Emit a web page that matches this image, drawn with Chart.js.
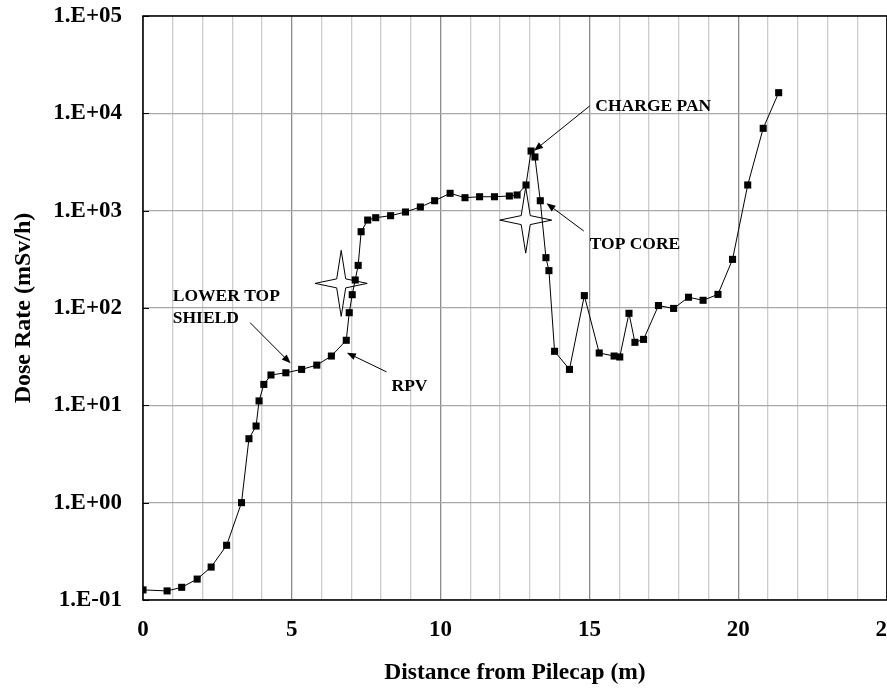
<!DOCTYPE html>
<html><head><meta charset="utf-8">
<script src="https://cdn.jsdelivr.net/npm/chart.js@4.4.0/dist/chart.umd.min.js"></script>
<style>html,body{margin:0;padding:0;background:#fff;overflow:hidden;}#wrap{width:892px;height:689px;position:relative;}</style>
</head><body><div id="wrap"><canvas id="c"></canvas></div>
<script>
// ---- data ----
const distances = [0.0, 0.81, 1.30, 1.82, 2.29, 2.81, 3.31, 3.56, 3.80, 3.90, 4.06, 4.30, 4.80, 5.33, 5.84, 6.33, 6.83,
  6.93, 7.03, 7.13, 7.23, 7.33, 7.55, 7.82, 8.32, 8.82, 9.32, 9.80,
  10.32, 10.82, 11.31, 11.81, 12.31, 12.57, 12.87, 13.04, 13.17, 13.35, 13.54, 13.64,
  13.83, 14.33, 14.83, 15.33, 15.83, 16.02, 16.33, 16.53, 16.82, 17.32, 17.83, 18.33, 18.82, 19.32, 19.81, 20.32, 20.84, 21.36];
const doseRates = [0.127, 0.124, 0.135, 0.164, 0.218, 0.365, 1.0, 4.54, 6.13, 11.1, 16.4, 20.5, 21.6, 23.4, 25.9, 32.1, 46.6,
  89.5, 137, 194, 274, 608, 801, 847, 888, 969, 1091, 1265,
  1508, 1359, 1390, 1390, 1415, 1449, 1836, 4100, 3560, 1265, 329, 242,
  35.9, 23.4, 134, 34.5, 32.1, 31.4, 88.2, 44.4, 47.6, 106, 99, 129, 120, 138, 316, 1836, 7015, 16300];
const yTickValues = [0.1, 1, 10, 100, 1000, 10000, 100000];
const xTickValues = [0, 5, 10, 15, 20, 25];
const xAxisTitle = 'Distance from Pilecap (m)';
const yAxisTitle = 'Dose Rate (mSv/h)';
// annotations (data coordinates)
const noteTexts = ['LOWER TOP', 'SHIELD', 'RPV', 'CHARGE PAN', 'TOP CORE'];
const noteX = [1.0, 1.0, 8.35, 15.2, 15.01];
const noteY = [130, 78.9, 15.5, 11700, 449];
const arrowFromX = [3.60, 8.18, 15.01, 14.81];
const arrowFromY = [70.6, 22.1, 11900, 618];
const arrowToX = [4.96, 6.85, 13.14, 13.56];
const arrowToY = [27.0, 34.7, 4130, 1191];
const starX = [6.66, 12.86];
const starY = [179, 800];

const FONT = 'Liberation Serif';

const overlay = {
  id: 'overlay',
  beforeDatasetsDraw(chart) {
    const {ctx, chartArea: a, scales: {x, y}} = chart;
    ctx.save();
    // inward ticks on y axis
    ctx.strokeStyle = '#000'; ctx.lineWidth = 1;
    yTickValues.forEach(v => {
      const py = Math.round(y.getPixelForValue(v)) + 0.5;
      ctx.beginPath(); ctx.moveTo(a.left, py); ctx.lineTo(a.left + 6, py); ctx.stroke();
    });
    // frame
    ctx.lineWidth = 1.5;
    ctx.strokeRect(a.left, a.top, a.right - a.left, a.bottom - a.top);
    // stars
    ctx.lineWidth = 1;
    for (let i = 0; i < starX.length; i++) {
      const cx = x.getPixelForValue(starX[i]), cy = y.getPixelForValue(starY[i]);
      const w = 26, h = 33, r = 4.5;
      ctx.beginPath();
      ctx.moveTo(cx, cy - h); ctx.lineTo(cx + r, cy - r); ctx.lineTo(cx + w, cy); ctx.lineTo(cx + r, cy + r);
      ctx.lineTo(cx, cy + h); ctx.lineTo(cx - r, cy + r); ctx.lineTo(cx - w, cy); ctx.lineTo(cx - r, cy - r);
      ctx.closePath();
      ctx.fillStyle = '#fff'; ctx.fill(); ctx.strokeStyle = '#000'; ctx.stroke();
    }
    ctx.restore();
  },
  afterDatasetsDraw(chart) {
    const {ctx, scales: {x, y}} = chart;
    ctx.save();
    ctx.strokeStyle = '#000'; ctx.fillStyle = '#000'; ctx.lineWidth = 1;
    for (let i = 0; i < arrowFromX.length; i++) {
      const x1 = x.getPixelForValue(arrowFromX[i]), y1 = y.getPixelForValue(arrowFromY[i]);
      const x2 = x.getPixelForValue(arrowToX[i]), y2 = y.getPixelForValue(arrowToY[i]);
      const ang = Math.atan2(y2 - y1, x2 - x1), L = 9, W = 3.5;
      ctx.beginPath(); ctx.moveTo(x1, y1); ctx.lineTo(x2 - L * Math.cos(ang), y2 - L * Math.sin(ang)); ctx.stroke();
      ctx.beginPath();
      ctx.moveTo(x2, y2);
      ctx.lineTo(x2 - L * Math.cos(ang) + W * Math.sin(ang), y2 - L * Math.sin(ang) - W * Math.cos(ang));
      ctx.lineTo(x2 - L * Math.cos(ang) - W * Math.sin(ang), y2 - L * Math.sin(ang) + W * Math.cos(ang));
      ctx.closePath(); ctx.fill();
    }
    ctx.font = 'bold 17.5px "' + FONT + '"';
    ctx.textAlign = 'left'; ctx.textBaseline = 'middle';
    for (let i = 0; i < noteTexts.length; i++) {
      ctx.fillText(noteTexts[i], x.getPixelForValue(noteX[i]), y.getPixelForValue(noteY[i]));
    }
    ctx.restore();
  }
};

new Chart(document.getElementById('c'), {
  type: 'line',
  data: {
    datasets: [{
      data: distances.map((d, i) => ({x: d, y: doseRates[i]})),
      borderColor: '#000', borderWidth: 1, backgroundColor: '#000',
      pointStyle: 'rect', pointRadius: 5, pointBackgroundColor: '#000', pointBorderWidth: 0,
      tension: 0, fill: false
    }]
  },
  options: {
    responsive: true, maintainAspectRatio: false, animation: false,
    layout: {padding: {top: 16, right: 0, bottom: 0, left: 0}},
    plugins: {legend: {display: false}, tooltip: {enabled: false}},
    scales: {
      x: {
        type: 'linear', min: 0, max: 25,
        afterBuildTicks(s) { const t = []; for (let v = 0; v <= 25; v++) t.push({value: v}); s.ticks = t; },
        afterFit(s) { s.height = 89; s.paddingLeft = 0; s.paddingRight = 0; },
        ticks: {
          autoSkip: false, maxRotation: 0, padding: 16, color: '#000',
          font: {family: FONT, size: 23, weight: 'bold'},
          callback: v => xTickValues.includes(v) ? String(v) : ''
        },
        grid: {
          drawTicks: false,
          color: c => (c.tick && c.tick.value % 5 === 0) ? '#8c8c8c' : '#cccccc',
          lineWidth: 1.3
        },
        border: {display: false},
        title: {display: true, text: xAxisTitle, color: '#000', font: {family: FONT, size: 23.5, weight: 'bold'}, padding: {top: 0, bottom: 2}}
      },
      y: {
        type: 'logarithmic', min: 0.1, max: 100000,
        afterBuildTicks(s) { s.ticks = yTickValues.map(v => ({value: v})); },
        afterFit(s) { s.width = 143; s.paddingTop = 0; s.paddingBottom = 0; },
        ticks: {
          padding: 21, color: '#000',
          font: {family: FONT, size: 23, weight: 'bold'},
          callback: v => {
            const e = Math.round(Math.log10(v));
            return '1.E' + (e < 0 ? '-' : '+') + String(Math.abs(e)).padStart(2, '0');
          }
        },
        grid: {drawTicks: false, color: '#a8a8a8', lineWidth: 1.3},
        border: {display: false},
        title: {display: true, text: yAxisTitle, color: '#000', font: {family: FONT, size: 24, weight: 'bold'}, padding: {top: 9, bottom: 0}}
      }
    }
  },
  plugins: [overlay]
});
</script></body></html>
